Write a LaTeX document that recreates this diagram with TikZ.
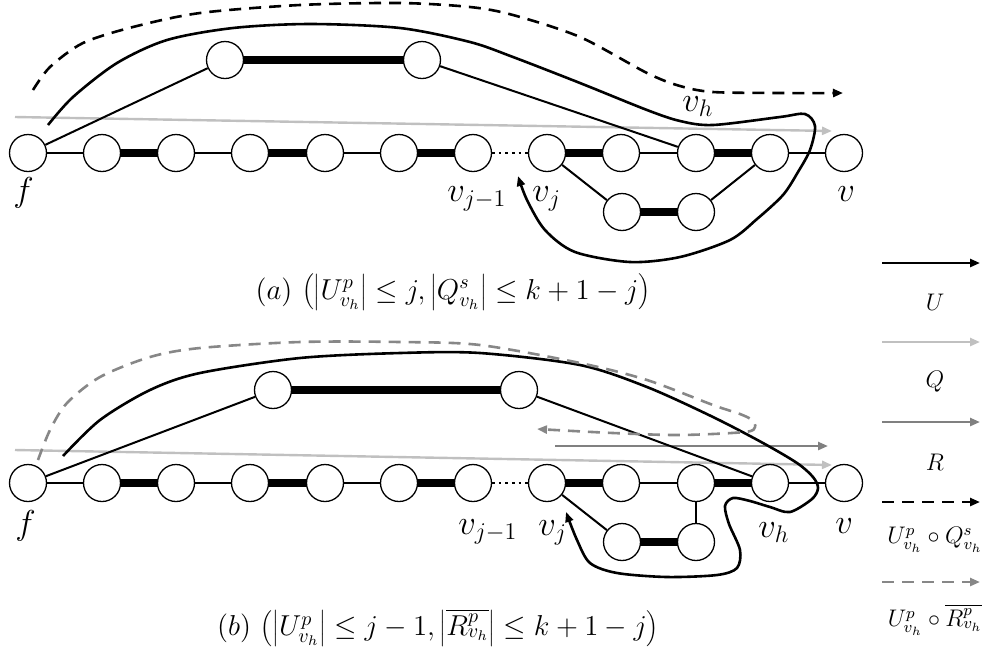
\documentclass[tikz,border=0pt]{standalone}
\usetikzlibrary{arrows.meta}
\definecolor{qgray}{RGB}{192,192,192}
\definecolor{rgray}{RGB}{128,128,128}
\definecolor{dgray}{RGB}{135,135,135}
\begin{document}
\begin{tikzpicture}[x=0.5pt,y=-0.5pt,
  vtx/.style={circle,draw,fill=white,minimum size=18.5pt,inner sep=0pt,line width=0.65pt},
  thinedge/.style={line width=1pt},
  thickedge/.style={line width=3.8pt},
  dotedge/.style={line width=1.3pt,dotted},
  curv/.style={line width=1.3pt},
  tipped/.style={-{Triangle[length=5pt,width=4pt]}},
  dashy/.style={dash pattern=on 6pt off 4pt},
  lbl/.style={font=\fontsize{18.5}{22}\selectfont,inner sep=0pt,anchor=base west},
  captext/.style={font=\fontsize{14.5}{18}\selectfont,inner sep=0pt},
  legtext/.style={font=\fontsize{12}{14}\selectfont,inner sep=0pt}]
\useasboundingbox (0,0) rectangle (992,661);

% ---------- gray arrows (drawn under everything) ----------
\coordinate (QAs) at (15,117);  \coordinate (QAe) at (832,131);
\coordinate (QBs) at (15,450);  \coordinate (QBe) at (832,465);
\coordinate (RBs) at (555,446); \coordinate (RBe) at (828,446);
\draw[qgray,line width=1.2pt,tipped] (QAs) -- (QAe);
\draw[qgray,line width=1.2pt,tipped] (QBs) -- (QBe);
\draw[rgray,line width=1.2pt,tipped] (RBs) -- (RBe);

% ---------- nodes ----------
\foreach \i/\x in {0/28,1/102,2/176,3/250,4/325,5/399,6/473,7/547,8/621,9/696,10/770,11/844}{
  \node[vtx] (a\i) at (\x,153) {};
  \node[vtx] (b\i) at (\x,483) {};
}
\node[vtx] (at1) at (225,60) {};
\node[vtx] (at2) at (422,60) {};
\node[vtx] (al1) at (622,212) {};
\node[vtx] (al2) at (696,212) {};
\node[vtx] (bt1) at (273,390) {};
\node[vtx] (bt2) at (519,390) {};
\node[vtx] (bl1) at (622,542) {};
\node[vtx] (bl2) at (696,542) {};

% ---------- edges ----------
\foreach \p in {a,b}{
  \foreach \u/\w in {0/1,2/3,4/5,8/9,10/11} \draw[thinedge] (\p\u) -- (\p\w);
  \foreach \u/\w in {1/2,3/4,5/6,7/8,9/10} \draw[thickedge] (\p\u) -- (\p\w);
  \draw[dotedge] (\p6) -- (\p7);
}
\draw[thinedge] (a0) -- (at1);
\draw[thickedge] (at1) -- (at2);
\draw[thinedge] (at2) -- (a9);
\draw[thinedge] (a7) -- (al1);
\draw[thickedge] (al1) -- (al2);
\draw[thinedge] (al2) -- (a10);
\draw[thinedge] (b0) -- (bt1);
\draw[thickedge] (bt1) -- (bt2);
\draw[thinedge] (bt2) -- (b10);
\draw[thinedge] (b7) -- (bl1);
\draw[thickedge] (bl1) -- (bl2);
\draw[thinedge] (bl2) -- (b9);

% ---------- curves (a) ----------
\coordinate (A1s) at (48,125); \coordinate (A1e) at (518,176);
\draw[curv,tipped] plot[smooth,tension=0.5] coordinates {(A1s) (73,97) (117,63) (167,40) (233,28) (310,24) (400,28) (470,42) (513,57) (580,83) (647,110) (680,121) (713,125) (780,117) (805,114) (815,126) (810,150) (798,172) (783,195) (757,219) (730,240) (680,257) (630,262) (575,252) (545,230) (527,200) (A1e)};
\coordinate (A2s) at (33,90); \coordinate (A2e) at (843,93);
\draw[curv,dashy,tipped] plot[smooth,tension=0.5] coordinates {(A2s) (50,67) (83,43) (133,27) (200,13) (300,5) (400,3) (470,7) (513,15) (580,37) (647,73) (680,86) (713,92) (780,93) (A2e)};

% ---------- curves (b) ----------
\coordinate (B1s) at (63,456); \coordinate (B1e) at (566,512);
\draw[curv,tipped] plot[smooth,tension=0.5] coordinates {(B1s) (100,420) (150,390) (200,373) (300,358) (400,353) (480,353) (580,365) (647,387) (713,417) (763,443) (797,463) (813,477) (818,488) (812,499) (790,512) (770,507) (750,501) (733,498) (725,506) (729,524) (740,550) (737,568) (717,575) (667,577) (617,573) (590,563) (577,540) (B1e)};
\coordinate (B2s) at (38,460); \coordinate (B2e) at (537,429);
\draw[dgray,curv,dashy,tipped] plot[smooth,tension=0.5] coordinates {(B2s) (50,430) (67,403) (100,377) (150,357) (200,348) (300,342) (400,342) (480,345) (580,363) (647,380) (713,405) (740,414) (752,420) (755,427) (745,432) (680,435) (613,433) (B2e)};

% ---------- vertex labels ----------
\node[lbl] (fa) at (13,201) {$f$};
\node[lbl] (vj1a) at (447,201) {$v_{j-1}$};
\node[lbl] (vja) at (532,201) {$v_j$};
\node[lbl] (va) at (837,201) {$v$};
\node[lbl] (vha) at (682,111) {$v_h$};
\node[lbl] (fb) at (15,534) {$f$};
\node[lbl] (vj1b) at (458,534) {$v_{j-1}$};
\node[lbl] (vjb) at (538,535) {$v_j$};
\node[lbl] (vhb) at (758,537) {$v_h$};
\node[lbl] (vb) at (835,533) {$v$};

% ---------- captions ----------
\node[captext] (capa) at (453,292) {$(a)\,\left(\left|U^p_{v_h}\right|\le j,\left|Q^s_{v_h}\right|\le k+1-j\right)$};
\node[captext] (capb) at (438,628) {$(b)\,\left(\left|U^p_{v_h}\right|\le j-1,\left|\overline{R^p_{v_h}}\right|\le k+1-j\right)$};

% ---------- legend ----------
\foreach \n/\y in {1/263,2/342,3/422,4/502,5/582}{
  \coordinate (L\n s) at (882,\y); \coordinate (L\n e) at (980,\y);
}
\draw[line width=1.2pt,tipped] (L1s) -- (L1e);
\draw[qgray,line width=1.2pt,tipped] (L2s) -- (L2e);
\draw[rgray,line width=1.2pt,tipped] (L3s) -- (L3e);
\draw[line width=1.2pt,dashy,tipped] (L4s) -- (L4e);
\draw[dgray,line width=1.2pt,dashy,tipped] (L5s) -- (L5e);
\node[legtext] (lu) at (935,302) {$U$};
\node[legtext] (lq) at (935,382) {$Q$};
\node[legtext] (lr) at (935,462) {$R$};
\node[legtext] (luq) at (935,540) {$U^p_{v_h}\circ Q^s_{v_h}$};
\node[legtext] (lur) at (935,620) {$U^p_{v_h}\circ\overline{R^p_{v_h}}$};
\end{tikzpicture}
\end{document}
